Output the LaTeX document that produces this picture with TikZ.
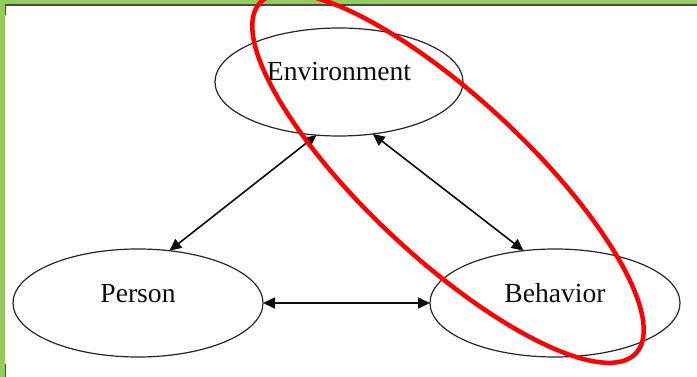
\documentclass[tikz,border=0pt]{standalone}
\usepackage{fontspec}
\setmainfont{Liberation Serif}
\usetikzlibrary{shapes.geometric,arrows.meta}
\definecolor{frameGreen}{RGB}{148,206,88}
\definecolor{frameDark}{RGB}{70,80,60}
\begin{document}
\begin{tikzpicture}[x=1pt,y=-1pt,
  oval/.style={ellipse, draw=black!85, line width=1.2pt, minimum width=250pt, minimum height=108pt, inner sep=0pt, outer sep=0pt},
  lbl/.style={font=\fontsize{27.6}{30}\selectfont, anchor=base, inner sep=0pt, text=black!95},
  link/.style={{Triangle[length=12pt,width=11pt]}-{Triangle[length=12pt,width=11pt]}, line width=1.6pt, black!95},
  redring/.style={red, line width=4.5pt}]
\useasboundingbox (0,0) rectangle (697,377);
\clip (0,0) rectangle (697,377);
\fill[white] (0,0) rectangle (697,377);
% frame
\fill[frameGreen] (0,0) rectangle (697,4.6);
\fill[frameGreen] (0,0) rectangle (5,377);
\draw[frameDark, line width=1.5pt] (5,5.2) -- (697,5.2);
\draw[frameDark, line width=1.5pt] (5.6,5) -- (5.6,15);
\draw[frameDark, line width=1.5pt] (5.6,364) -- (5.6,377);
% ellipses
\node[oval, minimum width=248pt] (env) at (339,82) {};
\node[oval] (per) at (138,303) {};
\node[oval] (beh) at (555,303) {};
\node[lbl] (envt) at ([yshift=1pt]env.center) {Environment};
\node[lbl] (pert) at ([yshift=1pt]per.center) {Person};
\node[lbl] (beht) at ([yshift=1pt]beh.center) {Behavior};
% connectors
\draw[link] (env.247.3) -- (per.59.3);
\draw[link] (env.303.9) -- (beh.121.4);
\draw[link] (per.east) -- (beh.west);
% red highlight
\draw[redring, rotate around={-43:(448,178)}] (448,178) ellipse [x radius=257pt, y radius=80pt];
\end{tikzpicture}
\end{document}
